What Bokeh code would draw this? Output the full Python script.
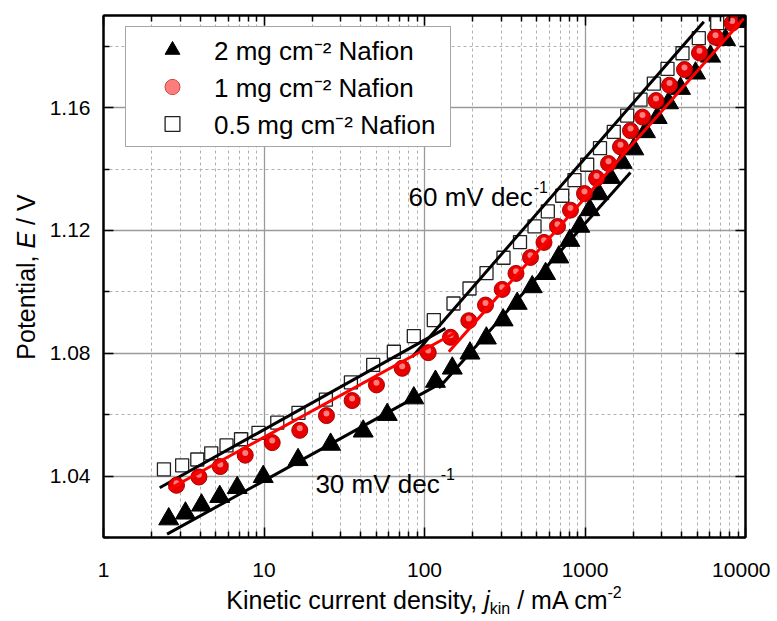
import math
from bokeh.plotting import figure
from bokeh.layouts import column, row
from bokeh.models import (Range1d, FixedTicker, LogAxis, LinearAxis, Label, Legend,
                          LegendItem, ColumnDataSource, PrintfTickFormatter, Div)
from bokeh.transform import dodge
from bokeh.embed import file_html
from bokeh.resources import INLINE

# ---------------- data ----------------
j_2mg = [2.55, 3.24, 4.08, 5.30, 6.81, 9.89, 16.3, 26.0, 41.5, 58.6, 85.8, 117, 149, 192, 243,
         309, 378, 469, 568, 687, 804, 928, 1071, 1219, 1442, 1705, 2014, 2382, 2818, 3313,
         3936, 4881, 6052, 7507, 9759]
E_2mg = [1.0260, 1.0279, 1.0305, 1.0333, 1.0362, 1.0398, 1.0453, 1.0503, 1.0546, 1.0600,
         1.0654, 1.0708, 1.0751, 1.0800, 1.0849, 1.0908, 1.0962, 1.1016, 1.1059, 1.1113,
         1.1167, 1.1213, 1.1267, 1.1319, 1.1372, 1.1421, 1.1465, 1.1521, 1.1567, 1.1615,
         1.1662, 1.1712, 1.1767, 1.1821, 1.1880]

j_1mg = [2.85, 3.93, 5.34, 7.64, 11.25, 16.7, 24.5, 35.4, 50.2, 72.6, 105.5, 145.2, 188.8,
         239.9, 304.9, 371.6, 457.5, 555.3, 674.2, 812, 993, 1180, 1401, 1664, 1921, 2282,
         2770, 3362, 4169, 5169, 6503, 8263]
E_1mg = [1.0370, 1.0397, 1.0431, 1.0468, 1.0509, 1.0549, 1.0597, 1.0646, 1.0697, 1.0751,
         1.0802, 1.0852, 1.0906, 1.0957, 1.1008, 1.1060, 1.1112, 1.1161, 1.1213, 1.1266,
         1.1320, 1.1370, 1.1418, 1.1472, 1.1525, 1.1569, 1.1623, 1.1673, 1.1724, 1.1778,
         1.1829, 1.1875]

j_05mg = [2.38, 3.09, 3.84, 4.69, 5.84, 7.19, 9.24, 12.1, 16.4, 24.3, 34.8, 47.9, 64.4, 85.8,
          114.3, 151.6, 190.7, 243.4, 310.6, 393.6, 484.7, 586.5, 721, 860, 1032, 1240, 1511,
          1832, 2217, 2684, 3266, 4050, 5117, 6663]
E_05mg = [1.0422, 1.0435, 1.0454, 1.0474, 1.0500, 1.0520, 1.0541, 1.0574, 1.0606, 1.0649,
          1.0705, 1.0762, 1.0805, 1.0856, 1.0908, 1.0962, 1.1011, 1.1061, 1.1111, 1.1162,
          1.1213, 1.1262, 1.1313, 1.1364, 1.1414, 1.1468, 1.1521, 1.1574, 1.1626, 1.1678,
          1.1726, 1.1777, 1.1826, 1.1875]

# Tafel fit lines (end points)
fit_2mg_low_j = [2.49, 131]
fit_2mg_low_E = [1.0211, 1.0707]
fit_2mg_high_j = [122.8, 1920]
fit_2mg_high_E = [1.0687, 1.1389]
fit_1mg_low_j = [2.55, 154]
fit_1mg_low_E = [1.0357, 1.0866]
fit_1mg_high_j = [141.8, 9750]
fit_1mg_high_E = [1.0805, 1.1890]
fit_05mg_low_j = [2.24, 135]
fit_05mg_low_E = [1.0362, 1.0881]
fit_05mg_high_j = [83.8, 5500]
fit_05mg_high_E = [1.0788, 1.1880]

series_labels = ["2 mg cm\u207b\u00b2 Nafion", "1 mg cm\u207b\u00b2 Nafion", "0.5 mg cm\u207b\u00b2 Nafion"]

x_major_ticks = [1, 10, 100, 1000, 10000]
x_minor_ticks = [2, 3, 4, 5, 6, 7, 8, 9, 20, 30, 40, 50, 60, 70, 80, 90,
                 200, 300, 400, 500, 600, 700, 800, 900, 2000, 3000, 4000, 5000, 6000, 7000, 8000, 9000]
y_major_ticks = [1.04, 1.08, 1.12, 1.16]
y_minor_ticks = [1.02, 1.06, 1.10, 1.14, 1.18]

# ---------------- layout sizes ----------------
FONT = "Liberation Sans"
YSTRIP_W = 40
MAIN_W, MAIN_H = 730, 590
XSTRIP_H = 28
FRAME_L, FRAME_R, FRAME_T, FRAME_B = 63, 25, 15, 53
FRAME_W = MAIN_W - FRAME_L - FRAME_R
FRAME_H = MAIN_H - FRAME_T - FRAME_B
X_MIN, X_MAX, Y_MIN, Y_MAX = 1, 10000, 1.02, 1.19

p = figure(width=MAIN_W, height=MAIN_H, x_axis_type="log",
           x_range=Range1d(X_MIN, X_MAX), y_range=Range1d(Y_MIN, Y_MAX),
           output_backend="svg", toolbar_location=None,
           min_border_left=FRAME_L, min_border_right=FRAME_R,
           min_border_top=FRAME_T, min_border_bottom=FRAME_B)
p.background_fill_color = "white"
p.border_fill_color = "white"
p.outline_line_color = "black"
p.outline_line_width = 2

xt = FixedTicker(ticks=x_major_ticks, minor_ticks=x_minor_ticks)
yt = FixedTicker(ticks=y_major_ticks, minor_ticks=y_minor_ticks)

p.xaxis.ticker = xt
p.yaxis.ticker = yt
p.xgrid.ticker = xt
p.ygrid.ticker = yt
p.xaxis.formatter = PrintfTickFormatter(format="%d")

for ax in (p.xaxis[0], p.yaxis[0]):
    ax.axis_line_width = 2
    ax.axis_line_color = "black"
    ax.major_tick_in = 10
    ax.major_tick_out = 0
    ax.minor_tick_in = 6
    ax.minor_tick_out = 0
    ax.major_tick_line_width = 1.5
    ax.minor_tick_line_width = 1.5
    ax.major_tick_line_color = "black"
    ax.minor_tick_line_color = "black"
    ax.major_label_text_font = FONT
    ax.major_label_text_font_size = "21px"
    ax.major_label_text_color = "black"
p.xaxis.major_label_standoff = 25
p.yaxis.major_label_standoff = 13

top = LogAxis(ticker=xt, major_label_text_font_size="1px", major_label_text_alpha=0,
              major_label_standoff=0)
right = LinearAxis(ticker=yt, major_label_text_font_size="1px", major_label_text_alpha=0,
                   major_label_standoff=0)
for ax in (top, right):
    ax.axis_line_width = 2
    ax.major_tick_in = 10
    ax.major_tick_out = 0
    ax.minor_tick_in = 6
    ax.minor_tick_out = 0
    ax.major_tick_line_width = 1.5
    ax.minor_tick_line_width = 1.5
p.add_layout(top, "above")
p.add_layout(right, "right")

for g in (p.xgrid[0], p.ygrid[0]):
    g.grid_line_color = "#9a9a9a"
    g.grid_line_width = 1.3
    g.minor_grid_line_color = "#b0b0b0"
    g.minor_grid_line_width = 1
    g.minor_grid_line_dash = "3 3"

src2 = ColumnDataSource(dict(j=j_2mg, E=E_2mg))
src1 = ColumnDataSource(dict(j=j_1mg, E=E_1mg))
src05 = ColumnDataSource(dict(j=j_05mg, E=E_05mg))

r_sq = p.scatter("j", "E", source=src05, marker="square", size=13,
                 fill_color="white", line_color="#222222", line_width=1.3)
r_tri = p.scatter("j", "E", source=src2, marker="triangle", size=20,
                  fill_color="black", line_color="black")

# black Tafel lines
for xs, ys_ in ((fit_2mg_low_j, fit_2mg_low_E), (fit_2mg_high_j, fit_2mg_high_E),
                (fit_05mg_low_j, fit_05mg_low_E), (fit_05mg_high_j, fit_05mg_high_E)):
    p.line(xs, ys_, line_color="black", line_width=3)

r_ci = p.scatter("j", "E", source=src1, marker="circle", size=16,
                 fill_color="#e80000", line_color="#a80000", line_width=1)
r_hl = p.scatter("j", dodge("E", 0.0007, range=p.y_range), source=src1, marker="circle", size=6,
                 fill_color="#ff8a8a", line_color=None, fill_alpha=0.9)

for xs, ys_ in ((fit_1mg_low_j, fit_1mg_low_E), (fit_1mg_high_j, fit_1mg_high_E)):
    p.line(xs, ys_, line_color="#ff0000", line_width=3)

legend = Legend(items=[LegendItem(label=series_labels[0], renderers=[r_tri]),
                       LegendItem(label=series_labels[1], renderers=[r_ci, r_hl]),
                       LegendItem(label=series_labels[2], renderers=[r_sq])],
                location=(22, 390), glyph_width=84, glyph_height=37, label_standoff=0,
                padding=4, spacing=0, margin=0, label_width=232,
                label_text_font=FONT, label_text_font_size="26px", label_text_color="black",
                border_line_color="#4d4d4d", border_line_width=1,
                background_fill_color="white", background_fill_alpha=1)
p.add_layout(legend)

# ---------------- texts ----------------
ARIAL = {' ': 278, '0': 556, '3': 556, '6': 556, 'V': 667, 'c': 500, 'd': 556, 'e': 556, 'm': 833}


def tw(s, fs):
    return sum(ARIAL.get(ch, 556) for ch in s) * fs / 1000.0


def make_label(fig, text, x, y, fs, xo=0, yo=0):
    fig.add_layout(Label(x=x, y=y, x_units="data", y_units="data", text=text,
                         x_offset=xo, y_offset=yo, text_font=FONT, text_font_size=f"{fs}px",
                         text_color="black", text_align="left", text_baseline="alphabetic"))


# slope annotations (inside the plot)
F_AN = 26
ann_text = ["60 mV dec", "30 mV dec"]
ann_j = [79.5, 20.9]
ann_E = [1.1308, 1.0373]
for t, xj, yE in zip(ann_text, ann_j, ann_E):
    make_label(p, t, xj, yE, F_AN)
    make_label(p, "-1", xj, yE, 16, xo=tw(t, F_AN) + 1, yo=10)

# axis titles as HTML text (italic symbol, sub- and superscripts)
F_AX = 25
font_css = f"font-family:'{FONT}',Arial,sans-serif;font-size:{F_AX}px;color:#000;white-space:nowrap;"
y_center = FRAME_T + FRAME_H / 2 + 1
y_html = (f'<div style="{font_css}width:{MAIN_H}px;height:40px;line-height:40px;text-align:center;'
          f'transform-origin:0 0;transform:translate(6px,{MAIN_H / 2 + y_center}px) rotate(-90deg);">'
          'Potential, <i>E</i> / V</div>')
ydiv = Div(text=y_html, width=YSTRIP_W, height=MAIN_H, margin=0, styles={"overflow": "visible"})

x_center = YSTRIP_W + FRAME_L + FRAME_W / 2
x_html = (f'<div style="{font_css}width:{2 * x_center:.0f}px;height:{XSTRIP_H}px;line-height:21px;'
          'text-align:center;">Kinetic current density, <i>j</i>'
          '<span style="font-size:16px;position:relative;top:5px;">kin</span> / mA cm'
          '<span style="font-size:16px;position:relative;top:-11px;">-2</span></div>')
xdiv = Div(text=x_html, width=YSTRIP_W + MAIN_W, height=XSTRIP_H, margin=0,
           styles={"overflow": "visible"})

layout = column(row(ydiv, p), xdiv)
open("out.html", "w").write(file_html(layout, INLINE))
